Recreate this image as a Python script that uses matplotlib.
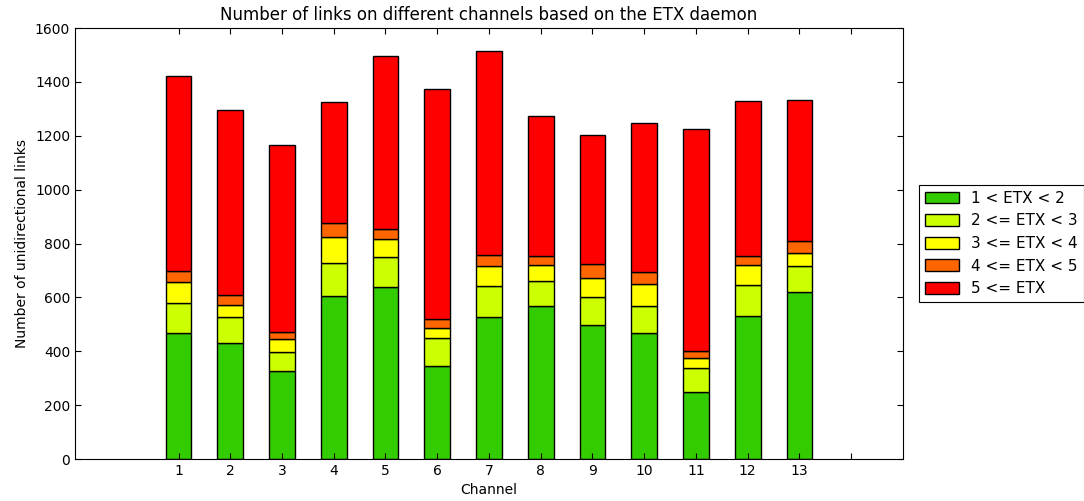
import matplotlib
matplotlib.use("Agg")
import matplotlib.pyplot as plt
import numpy as np

channels = list(range(1, 14))
etx_1_2 = [469, 432, 328, 606, 640, 345, 527, 567, 499, 468, 250, 530, 619]
etx_2_3 = [109, 95, 70, 122, 110, 103, 114, 94, 104, 100, 87, 116, 97]
etx_3_4 = [78, 43, 46, 98, 65, 37, 77, 58, 70, 83, 37, 73, 49]
etx_4_5 = [43, 39, 27, 50, 40, 35, 41, 35, 51, 43, 26, 35, 44]
etx_5_up = [723, 688, 696, 451, 640, 852, 754, 518, 478, 555, 825, 576, 524]

series = [etx_1_2, etx_2_3, etx_3_4, etx_4_5, etx_5_up]
labels = ["1 < ETX < 2", "2 <= ETX < 3", "3 <= ETX < 4", "4 <= ETX < 5", "5 <= ETX"]
colors = ["#33cc00", "#ccff00", "#ffff00", "#ff6600", "#ff0000"]

fig = plt.figure(figsize=(10.84, 5.01), dpi=100)
ax = fig.add_axes([0.0692, 0.0838, 0.7638, 0.8603])

bottom = np.zeros(len(channels))
for vals, lab, col in zip(series, labels, colors):
    ax.bar(channels, vals, width=0.5, bottom=bottom, color=col,
           edgecolor="black", linewidth=1, label=lab)
    bottom += np.array(vals)

ax.set_xlim(-1, 15)
ax.set_ylim(0, 1600)
ax.set_xticks(list(range(1, 15)))
ax.set_xticklabels([str(c) for c in channels] + [""])
ax.tick_params(direction="in", top=True, right=True, labelsize=10, length=4)
ax.set_xlabel("Channel", fontsize=10)
ax.set_ylabel("Number of unidirectional links", fontsize=10)
ax.set_title("Number of links on different channels based on the ETX daemon", fontsize=12)

leg = ax.legend(loc="center left", bbox_to_anchor=(1.01, 0.5), fontsize=11,
                fancybox=False, framealpha=1, edgecolor="black",
                handlelength=2.2, handleheight=0.8)
leg.get_frame().set_linewidth(0.8)

fig.savefig("out.png", dpi=100, facecolor="white")
